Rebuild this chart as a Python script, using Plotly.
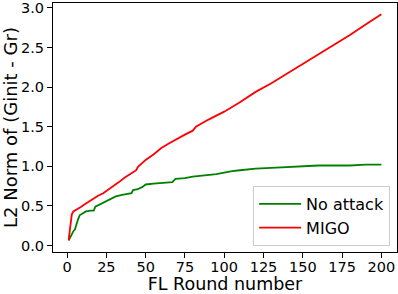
import plotly.graph_objects as go

# Data
rounds_no_attack = [1, 2, 3, 4, 5, 6, 7, 8, 10, 12, 15, 17, 18, 20, 23, 27, 29, 31, 35, 38,
                    41, 42, 45, 48, 50, 55, 60, 67, 69, 75, 80, 85, 90, 95, 100, 105, 110,
                    120, 130, 140, 150, 160, 170, 180, 190, 200]
no_attack = [0.06, 0.10, 0.15, 0.18, 0.20, 0.28, 0.33, 0.38, 0.41, 0.43, 0.44, 0.44, 0.49, 0.51,
             0.53, 0.57, 0.59, 0.62, 0.64, 0.65, 0.66, 0.70, 0.71, 0.74, 0.77, 0.78, 0.79, 0.80,
             0.84, 0.85, 0.87, 0.88, 0.89, 0.90, 0.92, 0.94, 0.95, 0.97, 0.98, 0.99, 1.00, 1.01,
             1.01, 1.01, 1.02, 1.02]

rounds_migo = [1, 2, 3, 4, 5, 7, 9, 12, 15, 18, 20, 23, 26, 29, 33, 37, 41, 44, 45, 47, 50, 55,
               60, 65, 70, 75, 80, 82, 90, 100, 110, 120, 130, 140, 150, 160, 170, 180, 190, 200]
migo = [0.07, 0.25, 0.39, 0.43, 0.44, 0.46, 0.49, 0.53, 0.57, 0.61, 0.63, 0.66, 0.70, 0.74, 0.80,
        0.86, 0.91, 0.95, 0.99, 1.03, 1.08, 1.15, 1.23, 1.29, 1.35, 1.40, 1.45, 1.50, 1.59, 1.69,
        1.81, 1.94, 2.05, 2.17, 2.29, 2.41, 2.53, 2.66, 2.79, 2.92]

x_ticks = [0, 25, 50, 75, 100, 125, 150, 175, 200]
y_ticks = [0.0, 0.5, 1.0, 1.5, 2.0, 2.5, 3.0]

FONT = "DejaVu Sans"

fig = go.Figure()
fig.add_trace(go.Scatter(x=rounds_no_attack, y=no_attack, mode="lines", name="No attack",
                         line=dict(color="green", width=1.8)))
fig.add_trace(go.Scatter(x=rounds_migo, y=migo, mode="lines", name="MIGO",
                         line=dict(color="red", width=1.8)))

axis_common = dict(showline=True, linecolor="black", linewidth=1, mirror=True,
                   ticks="outside", ticklen=5, tickwidth=1, tickcolor="black",
                   showgrid=False, zeroline=False, automargin=False,
                   ticklabeloverflow="allow",
                   tickfont=dict(family=FONT, size=14.5, color="black"))

fig.update_layout(
    width=398, height=294,
    margin=dict(l=53, r=1, t=3, b=42, autoexpand=False),
    paper_bgcolor="white", plot_bgcolor="white",
    font=dict(family=FONT, color="black"),
    xaxis=dict(range=[-8.95, 209.95], tickvals=x_ticks, ticklabelstandoff=-3,
               title=dict(text="FL Round number", font=dict(family=FONT, size=17.5), standoff=8),
               **axis_common),
    yaxis=dict(range=[-0.083, 3.063], tickvals=y_ticks, tickformat=".1f",
               title=dict(text="L2 Norm of (Ginit - Gr)", font=dict(family=FONT, size=18), standoff=4),
               **axis_common),
    legend=dict(x=0.98, y=0.024, xanchor="right", yanchor="bottom",
                bgcolor="rgba(255,255,255,0.8)", bordercolor="#cccccc", borderwidth=1,
                font=dict(family=FONT, size=16, color="black"),
                itemwidth=42),
    showlegend=True,
)

fig.write_html("out.html", config={"displayModeBar": False},
               post_script="document.body.style.margin='0';")
